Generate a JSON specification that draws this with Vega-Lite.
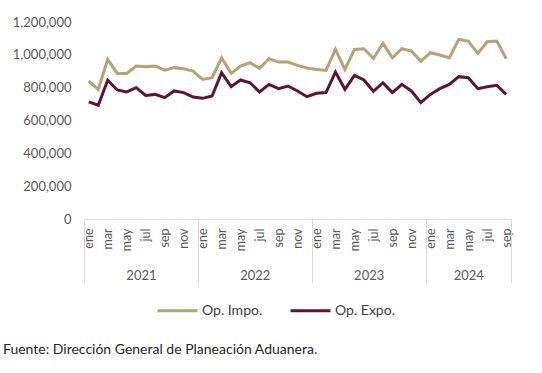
{
  "$schema": "https://vega.github.io/schema/vega-lite/v6.json",
  "width": 427,
  "height": 197,
  "autosize": "none",
  "padding": {"left": 84, "top": 22, "right": 31, "bottom": 154},
  "background": "white",
  "config": {
    "view": {"stroke": null},
    "font": "Lato",
    "axis": {"labelFont": "Lato", "labelColor": "#595959", "grid": false}
  },
  "title": {
    "text": "Fuente: Dirección General de Planeación Aduanera.",
    "orient": "bottom",
    "anchor": "start",
    "frame": "group",
    "dx": -81,
    "offset": 25,
    "fontSize": 14,
    "fontWeight": "normal",
    "font": "Lato",
    "color": "#262626"
  },
  "datasets": {
    "series": [
      {"fecha": "2021-01", "serie": "Op. Impo.", "valor": 840000},
      {"fecha": "2021-02", "serie": "Op. Impo.", "valor": 790000},
      {"fecha": "2021-03", "serie": "Op. Impo.", "valor": 972000},
      {"fecha": "2021-04", "serie": "Op. Impo.", "valor": 887000},
      {"fecha": "2021-05", "serie": "Op. Impo.", "valor": 887000},
      {"fecha": "2021-06", "serie": "Op. Impo.", "valor": 932000},
      {"fecha": "2021-07", "serie": "Op. Impo.", "valor": 928000},
      {"fecha": "2021-08", "serie": "Op. Impo.", "valor": 932000},
      {"fecha": "2021-09", "serie": "Op. Impo.", "valor": 907000},
      {"fecha": "2021-10", "serie": "Op. Impo.", "valor": 922000},
      {"fecha": "2021-11", "serie": "Op. Impo.", "valor": 915000},
      {"fecha": "2021-12", "serie": "Op. Impo.", "valor": 901000},
      {"fecha": "2022-01", "serie": "Op. Impo.", "valor": 850000},
      {"fecha": "2022-02", "serie": "Op. Impo.", "valor": 861000},
      {"fecha": "2022-03", "serie": "Op. Impo.", "valor": 982000},
      {"fecha": "2022-04", "serie": "Op. Impo.", "valor": 887000},
      {"fecha": "2022-05", "serie": "Op. Impo.", "valor": 932000},
      {"fecha": "2022-06", "serie": "Op. Impo.", "valor": 952000},
      {"fecha": "2022-07", "serie": "Op. Impo.", "valor": 918000},
      {"fecha": "2022-08", "serie": "Op. Impo.", "valor": 976000},
      {"fecha": "2022-09", "serie": "Op. Impo.", "valor": 956000},
      {"fecha": "2022-10", "serie": "Op. Impo.", "valor": 956000},
      {"fecha": "2022-11", "serie": "Op. Impo.", "valor": 936000},
      {"fecha": "2022-12", "serie": "Op. Impo.", "valor": 920000},
      {"fecha": "2023-01", "serie": "Op. Impo.", "valor": 911000},
      {"fecha": "2023-02", "serie": "Op. Impo.", "valor": 905000},
      {"fecha": "2023-03", "serie": "Op. Impo.", "valor": 1033000},
      {"fecha": "2023-04", "serie": "Op. Impo.", "valor": 911000},
      {"fecha": "2023-05", "serie": "Op. Impo.", "valor": 1033000},
      {"fecha": "2023-06", "serie": "Op. Impo.", "valor": 1037000},
      {"fecha": "2023-07", "serie": "Op. Impo.", "valor": 978000},
      {"fecha": "2023-08", "serie": "Op. Impo.", "valor": 1070000},
      {"fecha": "2023-09", "serie": "Op. Impo.", "valor": 982000},
      {"fecha": "2023-10", "serie": "Op. Impo.", "valor": 1037000},
      {"fecha": "2023-11", "serie": "Op. Impo.", "valor": 1023000},
      {"fecha": "2023-12", "serie": "Op. Impo.", "valor": 962000},
      {"fecha": "2024-01", "serie": "Op. Impo.", "valor": 1013000},
      {"fecha": "2024-02", "serie": "Op. Impo.", "valor": 999000},
      {"fecha": "2024-03", "serie": "Op. Impo.", "valor": 982000},
      {"fecha": "2024-04", "serie": "Op. Impo.", "valor": 1094000},
      {"fecha": "2024-05", "serie": "Op. Impo.", "valor": 1084000},
      {"fecha": "2024-06", "serie": "Op. Impo.", "valor": 1009000},
      {"fecha": "2024-07", "serie": "Op. Impo.", "valor": 1080000},
      {"fecha": "2024-08", "serie": "Op. Impo.", "valor": 1084000},
      {"fecha": "2024-09", "serie": "Op. Impo.", "valor": 976000},
      {"fecha": "2021-01", "serie": "Op. Expo.", "valor": 713000},
      {"fecha": "2021-02", "serie": "Op. Expo.", "valor": 693000},
      {"fecha": "2021-03", "serie": "Op. Expo.", "valor": 845000},
      {"fecha": "2021-04", "serie": "Op. Expo.", "valor": 786000},
      {"fecha": "2021-05", "serie": "Op. Expo.", "valor": 774000},
      {"fecha": "2021-06", "serie": "Op. Expo.", "valor": 800000},
      {"fecha": "2021-07", "serie": "Op. Expo.", "valor": 753000},
      {"fecha": "2021-08", "serie": "Op. Expo.", "valor": 759000},
      {"fecha": "2021-09", "serie": "Op. Expo.", "valor": 739000},
      {"fecha": "2021-10", "serie": "Op. Expo.", "valor": 780000},
      {"fecha": "2021-11", "serie": "Op. Expo.", "valor": 770000},
      {"fecha": "2021-12", "serie": "Op. Expo.", "valor": 743000},
      {"fecha": "2022-01", "serie": "Op. Expo.", "valor": 735000},
      {"fecha": "2022-02", "serie": "Op. Expo.", "valor": 749000},
      {"fecha": "2022-03", "serie": "Op. Expo.", "valor": 891000},
      {"fecha": "2022-04", "serie": "Op. Expo.", "valor": 806000},
      {"fecha": "2022-05", "serie": "Op. Expo.", "valor": 847000},
      {"fecha": "2022-06", "serie": "Op. Expo.", "valor": 830000},
      {"fecha": "2022-07", "serie": "Op. Expo.", "valor": 774000},
      {"fecha": "2022-08", "serie": "Op. Expo.", "valor": 820000},
      {"fecha": "2022-09", "serie": "Op. Expo.", "valor": 794000},
      {"fecha": "2022-10", "serie": "Op. Expo.", "valor": 810000},
      {"fecha": "2022-11", "serie": "Op. Expo.", "valor": 780000},
      {"fecha": "2022-12", "serie": "Op. Expo.", "valor": 745000},
      {"fecha": "2023-01", "serie": "Op. Expo.", "valor": 766000},
      {"fecha": "2023-02", "serie": "Op. Expo.", "valor": 770000},
      {"fecha": "2023-03", "serie": "Op. Expo.", "valor": 895000},
      {"fecha": "2023-04", "serie": "Op. Expo.", "valor": 790000},
      {"fecha": "2023-05", "serie": "Op. Expo.", "valor": 875000},
      {"fecha": "2023-06", "serie": "Op. Expo.", "valor": 847000},
      {"fecha": "2023-07", "serie": "Op. Expo.", "valor": 778000},
      {"fecha": "2023-08", "serie": "Op. Expo.", "valor": 830000},
      {"fecha": "2023-09", "serie": "Op. Expo.", "valor": 770000},
      {"fecha": "2023-10", "serie": "Op. Expo.", "valor": 820000},
      {"fecha": "2023-11", "serie": "Op. Expo.", "valor": 780000},
      {"fecha": "2023-12", "serie": "Op. Expo.", "valor": 709000},
      {"fecha": "2024-01", "serie": "Op. Expo.", "valor": 759000},
      {"fecha": "2024-02", "serie": "Op. Expo.", "valor": 794000},
      {"fecha": "2024-03", "serie": "Op. Expo.", "valor": 820000},
      {"fecha": "2024-04", "serie": "Op. Expo.", "valor": 867000},
      {"fecha": "2024-05", "serie": "Op. Expo.", "valor": 861000},
      {"fecha": "2024-06", "serie": "Op. Expo.", "valor": 794000},
      {"fecha": "2024-07", "serie": "Op. Expo.", "valor": 806000},
      {"fecha": "2024-08", "serie": "Op. Expo.", "valor": 814000},
      {"fecha": "2024-09", "serie": "Op. Expo.", "valor": 759000}
    ],
    "anios": [
      {"anio": "2021", "desde": 0, "hasta": 12},
      {"anio": "2022", "desde": 12, "hasta": 24},
      {"anio": "2023", "desde": 24, "hasta": 36},
      {"anio": "2024", "desde": 36, "hasta": 45}
    ]
  },
  "layer": [
    {
      "data": {"name": "series"},
      "mark": {"type": "line", "strokeWidth": 3, "strokeJoin": "miter"},
      "encoding": {
        "x": {
          "field": "fecha",
          "type": "ordinal",
          "scale": {"type": "point", "padding": 0.5},
          "axis": {
            "title": null,
            "orient": "bottom",
            "domain": true,
            "domainColor": "#d9d9d9",
            "domainWidth": 1,
            "ticks": false,
            "labelAngle": 270,
            "labelAlign": "right",
            "labelBaseline": "middle",
            "labelPadding": 9,
            "labelFontSize": 12.5,
            "labelExpr": "indexof(['01','03','05','07','09','11'], substring(datum.value,5,7)) >= 0 ? ['ene','feb','mar','abr','may','jun','jul','ago','sep','oct','nov','dic'][toNumber(substring(datum.value,5,7))-1] : ''"
          }
        },
        "y": {
          "field": "valor",
          "type": "quantitative",
          "scale": {"domain": [0, 1200000], "nice": false},
          "axis": {
            "title": null,
            "domain": false,
            "ticks": false,
            "values": [0, 200000, 400000, 600000, 800000, 1000000, 1200000],
            "format": ",.0f",
            "labelFontSize": 13,
            "labelPadding": 13
          }
        },
        "color": {
          "field": "serie",
          "type": "nominal",
          "scale": {"domain": ["Op. Impo.", "Op. Expo."], "range": ["#b8a173", "#5e1432"]},
          "legend": {
            "title": null,
            "orient": "none",
            "direction": "horizontal",
            "legendX": 72,
            "legendY": 267,
            "symbolType": "stroke",
            "symbolSize": 1600,
            "symbolStrokeWidth": 3,
            "labelFontSize": 14,
            "labelColor": "#404040",
            "labelFont": "Lato",
            "labelOffset": 3,
            "columnPadding": 21
          }
        }
      }
    },
    {
      "data": {"name": "anios"},
      "mark": {"type": "rule", "opacity": 0},
      "encoding": {
        "x": {
          "field": "desde",
          "type": "quantitative",
          "scale": {"domain": [0, 45], "nice": false, "zero": false},
          "axis": {
            "title": null,
            "orient": "bottom",
            "domain": false,
            "grid": false,
            "values": [0, 6, 12, 18, 24, 30, 36, 40.5, 45],
            "ticks": true,
            "tickSize": 64,
            "tickWidth": 1,
            "tickColor": "#d9d9d9",
            "tickOpacity": {"condition": {"test": "datum.value % 12 == 0 || datum.value == 45", "value": 1}, "value": 0},
            "labelAngle": 0,
            "labelAlign": "center",
            "labelBaseline": "top",
            "labelPadding": -14,
            "labelFontSize": 13,
            "labelOverlap": false,
            "labelBound": false,
            "labelFlush": false,
            "labelExpr": "datum.value == 6 ? '2021' : datum.value == 18 ? '2022' : datum.value == 30 ? '2023' : datum.value == 40.5 ? '2024' : ''"
          }
        }
      }
    }
  ],
  "resolve": {"scale": {"x": "independent"}, "axis": {"x": "independent"}}
}
